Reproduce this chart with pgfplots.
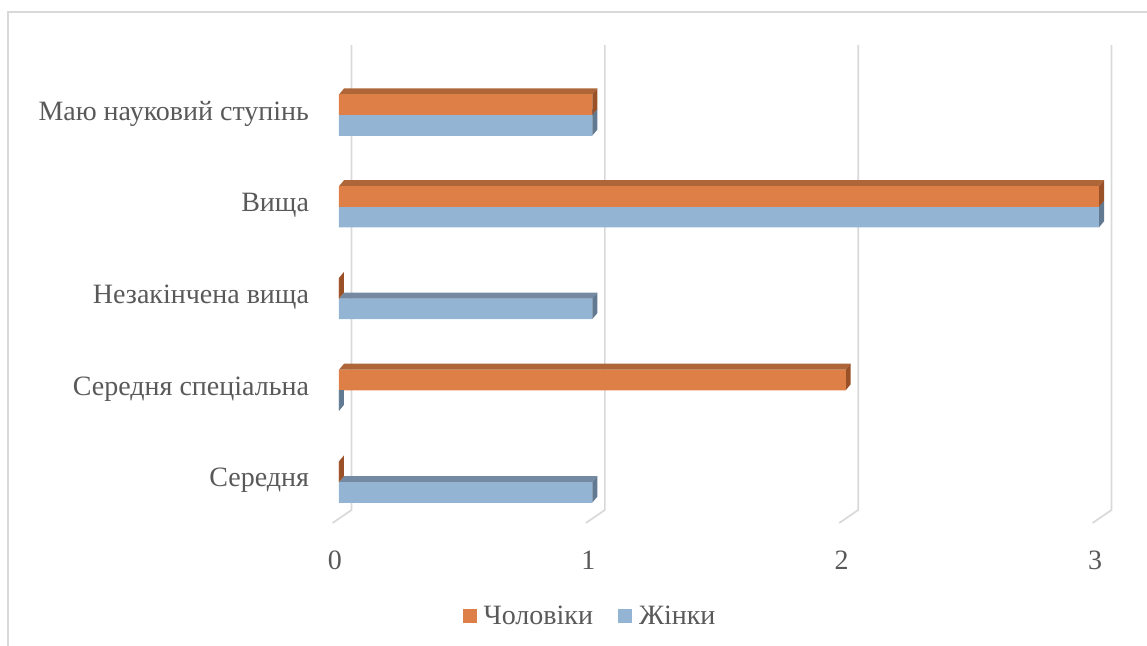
\documentclass[border=0pt]{standalone}
\usepackage{fontspec}
\setmainfont{Liberation Serif}
\usepackage{pgfplots}
\pgfplotsset{compat=1.18}
\definecolor{frontO}{HTML}{DF7F48}
\definecolor{topO}{HTML}{AE6638}
\definecolor{sideO}{HTML}{9A5127}
\definecolor{frontB}{HTML}{93B4D2}
\definecolor{topB}{HTML}{738AA2}
\definecolor{sideB}{HTML}{617A91}
\definecolor{gridc}{HTML}{D9D9D9}
\definecolor{textc}{HTML}{595959}
% 3D bar (front, top and side faces) as plot marks placed at the data point
\pgfdeclareplotmark{barO}{%
  \pgfmathsetmacro\L{\rawx*190}%
  \pgfpathmoveto{\pgfpoint{-\L pt}{15.4pt}}%
  \pgfpathlineto{\pgfpoint{-\L pt+3.75pt}{19.9pt}}%
  \pgfpathlineto{\pgfpoint{3.75pt}{19.9pt}}%
  \pgfpathlineto{\pgfpoint{0pt}{15.4pt}}%
  \pgfpathclose
  \pgfsetfillcolor{topO}\pgfusepath{fill}%
  \pgfpathmoveto{\pgfpoint{0pt}{0pt}}%
  \pgfpathlineto{\pgfpoint{0pt}{15.4pt}}%
  \pgfpathlineto{\pgfpoint{3.75pt}{19.9pt}}%
  \pgfpathlineto{\pgfpoint{3.75pt}{4.5pt}}%
  \pgfpathclose
  \pgfsetfillcolor{sideO}\pgfusepath{fill}%
  \pgfpathrectanglecorners{\pgfpoint{-\L pt}{0pt}}{\pgfpoint{0pt}{15.4pt}}%
  \pgfsetfillcolor{frontO}\pgfusepath{fill}%
}
\pgfdeclareplotmark{barB}{%
  \pgfmathsetmacro\L{\rawx*190}%
  \pgfpathmoveto{\pgfpoint{-\L pt}{0pt}}%
  \pgfpathlineto{\pgfpoint{-\L pt+3.75pt}{4.5pt}}%
  \pgfpathlineto{\pgfpoint{3.75pt}{4.5pt}}%
  \pgfpathlineto{\pgfpoint{0pt}{0pt}}%
  \pgfpathclose
  \pgfsetfillcolor{topB}\pgfusepath{fill}%
  \pgfpathmoveto{\pgfpoint{0pt}{-15.4pt}}%
  \pgfpathlineto{\pgfpoint{0pt}{0pt}}%
  \pgfpathlineto{\pgfpoint{3.75pt}{4.5pt}}%
  \pgfpathlineto{\pgfpoint{3.75pt}{-10.9pt}}%
  \pgfpathclose
  \pgfsetfillcolor{sideB}\pgfusepath{fill}%
  \pgfpathrectanglecorners{\pgfpoint{-\L pt}{-15.4pt}}{\pgfpoint{0pt}{0pt}}%
  \pgfsetfillcolor{frontB}\pgfusepath{fill}%
}
\begin{document}
\begin{tikzpicture}
\useasboundingbox (0,0) rectangle (860.25pt,484.5pt);
\draw[gridc, line width=1.2pt] (6pt,0pt) -- (6pt,475.5pt) -- (861pt,475.5pt);
\begin{axis}[
  at={(254.25pt,88.575pt)}, anchor=south west,
  scale only axis, width=570pt, height=344.06pt,
  xmin=0, xmax=3, ymin=-0.5, ymax=4.5,
  clip=false,
  axis line style={draw=none},
  major tick length=0pt,
  xtick={0,1,2,3},
  ytick={0,1,2,3,4},
  yticklabels={Середня, Середня спеціальна, Незакінчена вища, Вища, Маю науковий ступінь},
  /pgf/number format/assume math mode=true,
  tick label style={font=\fontsize{21}{25}\selectfont, text=textc},
  yticklabel style={xshift=-19pt, yshift=1pt},
  xticklabel style={xshift=-3pt, yshift=-14pt},
  legend style={at={(0.331,-0.192)}, anchor=center, draw=none, fill=none,
    legend columns=2, font=\fontsize{21}{25}\selectfont, text=textc,
    /tikz/every odd column/.append style={column sep=3pt},
    /tikz/every even column/.append style={column sep=17pt}},
  legend image code/.code={\fill[#1] (0pt,-5.25pt) rectangle (10.5pt,5.25pt);},
]
\foreach \k in {0,1,2,3} {
  \edef\temp{\noexpand\draw[gridc, line width=1.3pt] ([xshift=9.4pt]axis cs:\k,4.763) -- ([xshift=9.4pt]axis cs:\k,-0.305) -- ++(-14.25pt,-9.75pt);}
  \temp
}
\addlegendimage{fill=frontO, draw=none}
\addlegendimage{fill=frontB, draw=none}
% Жінки
\addplot[xbar, bar width=15.4pt, bar shift=-7.7pt, fill=frontB, draw=none, forget plot]
  coordinates {(1,0) (0,1) (1,2) (3,3) (1,4)};
\addplot[scatter, only marks, mark=barB, forget plot,
  scatter/@pre marker code/.code={}, scatter/@post marker code/.code={},
  visualization depends on={rawx \as \rawx}]
  coordinates {(1,0) (0,1) (1,2) (3,3) (1,4)};
% Чоловіки
\addplot[xbar, bar width=15.4pt, bar shift=7.7pt, fill=frontO, draw=none, forget plot]
  coordinates {(0,0) (2,1) (0,2) (3,3) (1,4)};
\addplot[scatter, only marks, mark=barO, forget plot,
  scatter/@pre marker code/.code={}, scatter/@post marker code/.code={},
  visualization depends on={rawx \as \rawx}]
  coordinates {(0,0) (2,1) (0,2) (3,3) (1,4)};
\legend{Чоловіки, Жінки}
\end{axis}
\end{tikzpicture}
\end{document}
